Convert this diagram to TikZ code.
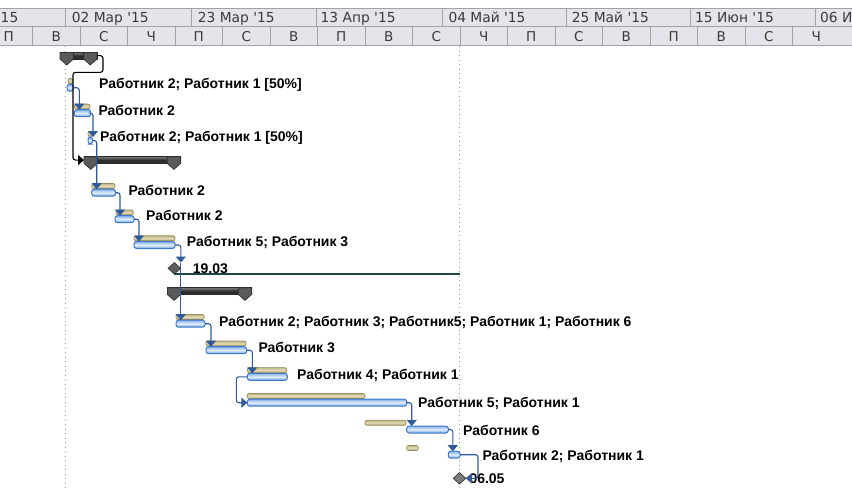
\documentclass[tikz,border=0pt]{standalone}
\usepackage{fontspec}
\setmainfont{Liberation Sans}
\newfontfamily\hdrfont{DejaVu Sans}
\usetikzlibrary{shapes.geometric,arrows.meta}
\definecolor{hdrbg}{HTML}{E4E5EA}
\definecolor{hdrline}{HTML}{A3A3A3}
\definecolor{hdrtext}{HTML}{3A3A3A}
\definecolor{tantop}{HTML}{C2B684}
\definecolor{tanmid}{HTML}{E2DAB6}
\definecolor{tanbot}{HTML}{B3A774}
\definecolor{tanline}{HTML}{968B5E}
\definecolor{bluetop}{HTML}{86B3EC}
\definecolor{bluemid}{HTML}{E2EEFB}
\definecolor{bluebot}{HTML}{6A9EE0}
\definecolor{blueline}{HTML}{3E78CA}
\definecolor{connc}{HTML}{2F5C99}
\definecolor{sumtop}{HTML}{7A7A7A}
\definecolor{sumdark}{HTML}{2E2E2E}
\definecolor{capfill}{HTML}{5A5A5A}
\definecolor{capline}{HTML}{2A2A2A}
\definecolor{mscol}{HTML}{5E5E5E}
\definecolor{ms2col}{HTML}{7C7C7C}
\definecolor{teal}{HTML}{1E4646}
\definecolor{dotc}{HTML}{9A9A9A}
\newcommand\taskrow[9]{%
  \node[tanbar, minimum width=#3pt, anchor=north west] (#1t) at (#2,#6) {};
  \node[bluebar, minimum width=#5pt, anchor=north west] (#1) at (#4,#6+5.7) {};
  \node[lbl] (#1l) at (#7,#8) {#9};
}
\newcommand\sumbar[4]{%
  \node[sumbody, minimum width=#3pt, anchor=north west] (#1) at (#2,#4) {};
  \filldraw[capstyle] (#2,#4) -- ++(13.5,0) -- ++(0,6.7) -- ++(-6.75,6) -- ++(-6.75,-6) -- cycle;
  \filldraw[capstyle] (#2+#3-13.5,#4) -- ++(13.5,0) -- ++(0,6.7) -- ++(-6.75,6) -- ++(-6.75,-6) -- cycle;
}
\begin{document}
\begin{tikzpicture}[x=1pt,y=-1pt,
  tanbar/.style={draw=tanline, line width=0.7pt, rounded corners=2pt, top color=tantop, bottom color=tanbot, middle color=tanmid, minimum height=5pt, inner sep=0pt, outer sep=0pt},
  bluebar/.style={draw=blueline, line width=1pt, rounded corners=2.5pt, top color=bluetop, bottom color=bluebot, middle color=bluemid, minimum height=7pt, inner sep=0pt, outer sep=0pt},
  lbl/.style={font=\bfseries\fontsize{14}{16}\selectfont, text=black, inner sep=0pt, anchor=base west},
  hdr/.style={font=\hdrfont\fontsize{13.8}{15}\selectfont, text=hdrtext, inner sep=0pt, anchor=base west},
  hdrc/.style={font=\hdrfont\fontsize{13.5}{15}\selectfont, text=hdrtext, inner sep=0pt, anchor=base},
  hdrline/.style={draw=hdrline, line width=0.8pt},
  conn/.style={draw=connc, line width=1.1pt, rounded corners=2.5pt, -{Triangle[width=10pt,length=6pt]}},
  sumconn/.style={draw=black, line width=1.1pt, rounded corners=2.5pt, -{Triangle[width=10pt,length=6pt]}},
  sumbody/.style={draw=capline, line width=0.6pt, top color=sumtop, bottom color=sumdark, middle color=sumdark, minimum height=6.7pt, inner sep=0pt, outer sep=0pt},
  capstyle/.style={fill=capfill, draw=capline, line width=0.6pt},
  ms/.style={diamond, draw=capline, fill=mscol, line width=0.6pt, minimum width=12.5pt, minimum height=11.5pt, inner sep=0pt, outer sep=0pt},
  dotline/.style={draw=dotc, line width=1pt, dash pattern=on 1pt off 3.5pt},
  deadline/.style={draw=teal, line width=2.5pt}
  ]
\useasboundingbox (0,0) rectangle (852,490);
\fill[white] (0,0) rectangle (852,490);
% header
\fill[hdrbg] (0,8.3) rectangle (852,45.5);
\draw[hdrline] (0,8.3) -- (852,8.3);
\draw[hdrline] (0,26.7) -- (852,26.7);
\draw[hdrline] (0,45.5) -- (852,45.5);
\foreach \x in {65,191.7,316.3,442.7,566,690.7,815}
  \draw[hdrline] (\x,8.3) -- (\x,26.7);
\foreach \i in {1,...,17}
  \draw[hdrline] (-15+47.5*\i,26.7) -- (-15+47.5*\i,45.5);
\node[hdr, anchor=base east] (h0) at (18.5,22.3) {15};
\node[hdr] (h1) at (71.7,22.3) {02 Мар '15};
\node[hdr] (h2) at (197.7,22.3) {23 Мар '15};
\node[hdr] (h3) at (320.5,22.3) {13 Апр '15};
\node[hdr] (h4) at (448.3,22.3) {04 Май '15};
\node[hdr] (h5) at (571.7,22.3) {25 Май '15};
\node[hdr] (h6) at (695,22.3) {15 Июн '15};
\node[hdr] (h7) at (820,22.3) {06 И};
\foreach \c [count=\i from 0] in {П,В,С,Ч,П,С,В,П,В,С,Ч,П,С,В,П,В,С,Ч}
  \node[hdrc] (d\i) at (8.75+47.5*\i,41) {\c};
% dotted lines
\coordinate (starttop) at (65,46);
\coordinate (nowtop) at (459.5,46);
\draw[dotline] (starttop) -- (65,490);
\draw[dotline] (nowtop) -- (459.5,490);
% summaries
\sumbar{s1}{60}{37}{52.3}
\sumbar{s2}{84}{96.7}{156.7}
\sumbar{s3}{167.3}{84.4}{287.7}
% tasks
\taskrow{b1}{68}{5}{67}{6.3}{78.5}{99}{88.3}{Работник 2; Работник 1 [50\%]}
\taskrow{b2}{74.3}{15.7}{74.3}{16.4}{104}{98.3}{115}{Работник 2}
\taskrow{b3}{88}{4.5}{88}{4.5}{131.3}{100}{141.7}{Работник 2; Работник 1 [50\%]}
\taskrow{b4}{91.7}{23.3}{91.7}{23.8}{183.5}{128.3}{195}{Работник 2}
\taskrow{b5}{116}{17.3}{115}{19}{210}{146}{220.7}{Работник 2}
\taskrow{b6}{134}{41}{134}{41}{235.8}{186.7}{246.7}{Работник 5; Работник 3}
\taskrow{b7}{176}{28.3}{176}{29}{314.5}{219}{326.7}{Работник 2; Работник 3; Работник5; Работник 1; Работник 6}
\taskrow{b8}{206}{40}{206}{40.7}{341}{258.3}{352.7}{Работник 3}
\taskrow{b9}{247.3}{39.4}{247.3}{40}{367.6}{297}{379.3}{Работник 4; Работник 1}
\taskrow{b10}{247.3}{117.7}{247.3}{159.4}{393.5}{418}{407.7}{Работник 5; Работник 1}
\taskrow{b11}{365}{41}{406.7}{41.6}{420.3}{463}{435}{Работник 6}
\taskrow{b12}{406.7}{11.6}{448.3}{11.7}{445.5}{482.3}{460}{Работник 2; Работник 1}
% milestones
\node[ms] (m1) at (174.3,268.3) {};
\node[ms, fill=ms2col] (m2) at (459.5,478.3) {};
\draw[deadline] (m1.south) -- (m1.south -| nowtop);
\node[lbl] (m1l) at (192.7,273.3) {19.03};
\node[lbl] (m2l) at (469.3,483.3) {06.05};
% summary connector
\coordinate (k1) at (73,72.3);
\draw[sumconn] (s1.east) -- ++(6,0) |- (k1) -- (k1 |- s2.west) -- (s2.west);
% task connectors
\draw[conn] (b1.east) -| ([xshift=5pt]b2.north west);
\draw[conn] (b2.east) -| ([xshift=5pt]b3.north west);
\draw[conn] (b3.east) -| ([xshift=5pt]b4.north west);
\draw[conn] (b4.east) -| ([xshift=5pt]b5.north west);
\draw[conn] (b5.east) -| ([xshift=5pt]b6.north west);
\draw[conn] (b6.east) -| ([xshift=6.5pt]m1.north);
\draw[conn] ([xshift=6.5pt]m1.north) -- ([xshift=6.5pt]m1.north |- b7.north);
\draw[conn] (b7.east) -| ([xshift=5pt]b8.north west);
\draw[conn] (b8.east) -| ([xshift=5pt]b9.north west);
\draw[conn] (b9.west) -- ++(-11,0) |- (b10.west);
\draw[conn] (b10.east) -| ([xshift=5pt]b11.north west);
\draw[conn] (b11.east) -| ([xshift=4.5pt]b12.north west);
\draw[conn] (b12.east) -- ++(18,0) |- (m2.east);
\end{tikzpicture}
\end{document}
